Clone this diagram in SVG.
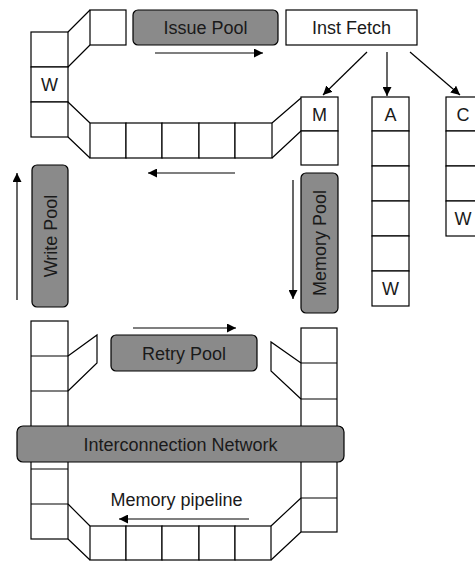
<svg xmlns="http://www.w3.org/2000/svg" width="475" height="561" viewBox="0 0 475 561">
  <style>
    .cell { fill: #fff; stroke: #000; stroke-width: 1.2; }
    .ln { fill: none; stroke: #000; stroke-width: 1.2; }
    .pool { fill: #8a8a8a; stroke: #000; stroke-width: 1.2; }
    .lbl { font-family: "Liberation Sans", Arial, sans-serif; font-size: 18px; fill: #1a1a1a; text-anchor: middle; }
    .arr { fill: none; stroke: #000; stroke-width: 1.2; marker-end: url(#ah); }
  </style>
  <defs>
    <marker id="ah" viewBox="0 0 10 10" refX="10" refY="5" markerWidth="9" markerHeight="9" markerUnits="userSpaceOnUse" orient="auto">
      <path d="M0,0 L10,5 L0,10 z" fill="#000"/>
    </marker>
  </defs>
  <rect width="475" height="561" fill="#fff"/>

  <!-- upper loop: write-back column on the left -->
  <g id="upper-left-column">
    <rect class="cell" x="31" y="32" width="37" height="35"/>
    <rect class="cell" x="31" y="67" width="37" height="35"/>
    <rect class="cell" x="31" y="102" width="37" height="35"/>
    <text class="lbl" x="49.5" y="91">W</text>
    <rect class="cell" x="90" y="10" width="36" height="35"/>
    <path class="ln" d="M68,32 L90,10 M68,67 L90,45"/>
    <path class="ln" d="M68,102 L90,123 M68,137 L90,158"/>
  </g>

  <!-- upper loop: bottom row -->
  <g id="upper-row">
    <rect class="cell" x="90" y="123" width="36" height="35"/>
    <rect class="cell" x="126" y="123" width="36" height="35"/>
    <rect class="cell" x="162" y="123" width="37" height="35"/>
    <rect class="cell" x="199" y="123" width="36" height="35"/>
    <rect class="cell" x="235" y="123" width="37" height="35"/>
    <path class="ln" d="M272,123 L301,98 M272,158 L301,131"/>
  </g>

  <!-- memory issue column -->
  <g id="m-column">
    <rect class="cell" x="301" y="97" width="37" height="34"/>
    <rect class="cell" x="301" y="131" width="37" height="34"/>
    <text class="lbl" x="319.5" y="120.5">M</text>
  </g>

  <g id="a-column">
    <rect class="cell" x="372" y="97" width="37" height="34"/>
    <rect class="cell" x="372" y="131" width="37" height="35"/>
    <rect class="cell" x="372" y="166" width="37" height="35"/>
    <rect class="cell" x="372" y="201" width="37" height="35"/>
    <rect class="cell" x="372" y="236" width="37" height="35"/>
    <rect class="cell" x="372" y="271" width="37" height="35"/>
    <text class="lbl" x="390.5" y="120.5">A</text>
    <text class="lbl" x="390.5" y="295">W</text>
  </g>

  <g id="c-column">
    <rect class="cell" x="446" y="97" width="37" height="34"/>
    <rect class="cell" x="446" y="131" width="37" height="35"/>
    <rect class="cell" x="446" y="166" width="37" height="35"/>
    <rect class="cell" x="446" y="201" width="37" height="35"/>
    <text class="lbl" x="463" y="120.5">C</text>
    <text class="lbl" x="463" y="225">W</text>
  </g>

  <g id="inst-fetch">
    <rect class="cell" x="286" y="10" width="131" height="35"/>
    <text class="lbl" x="351.5" y="34">Inst Fetch</text>
  </g>

  <g id="issue-pool">
    <rect class="pool" x="133" y="10" width="145" height="35" rx="5"/>
    <text class="lbl" x="205.5" y="34">Issue Pool</text>
  </g>

  <g id="write-pool">
    <rect class="pool" x="32" y="165" width="36" height="142" rx="5"/>
    <text class="lbl" transform="translate(56.5,236) rotate(-90)">Write Pool</text>
  </g>

  <g id="memory-pool">
    <rect class="pool" x="301" y="173" width="37" height="140" rx="5"/>
    <text class="lbl" transform="translate(326,243) rotate(-90)">Memory Pool</text>
  </g>

  <!-- lower loop -->
  <g id="lower-left-column">
    <rect class="cell" x="31" y="321" width="37" height="218"/>
    <path class="ln" d="M31,356 H68 M31,391 H68 M31,469 H68 M31,504 H68"/>
    <path class="ln" d="M68,356 L97,335 L97,363 L68,391"/>
    <path class="ln" d="M68,504 L90,526 M68,539 L90,560"/>
  </g>

  <g id="lower-right-column">
    <rect class="cell" x="301" y="328" width="36" height="204"/>
    <path class="ln" d="M301,363 H337 M301,399 H337 M301,498 H337"/>
    <path class="ln" d="M301,363 L271,342 L271,371 L301,399"/>
    <path class="ln" d="M271,526 L301,498 M271,560 L301,532"/>
  </g>

  <g id="lower-row">
    <rect class="cell" x="90" y="526" width="36" height="34"/>
    <rect class="cell" x="126" y="526" width="36" height="34"/>
    <rect class="cell" x="162" y="526" width="37" height="34"/>
    <rect class="cell" x="199" y="526" width="36" height="34"/>
    <rect class="cell" x="235" y="526" width="36" height="34"/>
  </g>

  <g id="retry-pool">
    <rect class="pool" x="111" y="335" width="146" height="36" rx="5"/>
    <text class="lbl" x="184" y="359.5">Retry Pool</text>
  </g>

  <g id="interconnection-network">
    <rect class="pool" x="17" y="426" width="327" height="36" rx="6"/>
    <text class="lbl" x="180.5" y="450.5">Interconnection Network</text>
  </g>

  <text class="lbl" x="176.5" y="506">Memory pipeline</text>

  <!-- flow arrows -->
  <g id="connectors">
    <line class="arr" x1="155" y1="53" x2="263" y2="53"/>
    <line class="arr" x1="367" y1="52" x2="323" y2="95"/>
    <line class="arr" x1="387" y1="52" x2="387" y2="96"/>
    <line class="arr" x1="410" y1="52" x2="460" y2="95"/>
    <line class="arr" x1="235" y1="173" x2="148" y2="173"/>
    <line class="arr" x1="293" y1="180" x2="293" y2="299"/>
    <line class="arr" x1="17" y1="300" x2="17" y2="173"/>
    <line class="arr" x1="133" y1="328" x2="236" y2="328"/>
    <line class="arr" x1="249" y1="519" x2="119" y2="519"/>
  </g>
</svg>
